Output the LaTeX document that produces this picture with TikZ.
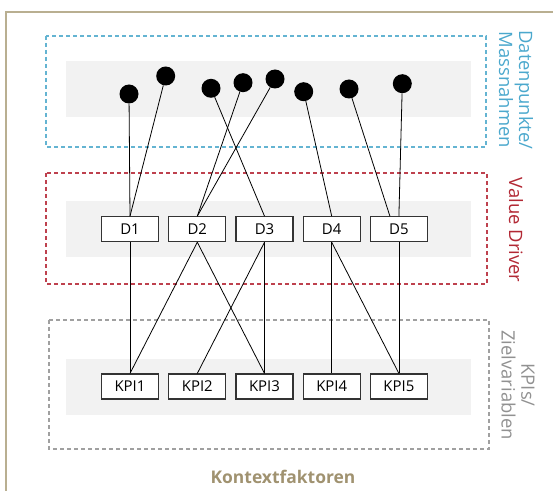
\documentclass[tikz,border=0pt]{standalone}
\usepackage{fontspec}
\setmainfont{Open Sans}
\usetikzlibrary{calc}
\definecolor{framec}{RGB}{185,175,145}
\definecolor{kontext}{RGB}{160,146,112}
\definecolor{bluedashc}{RGB}{100,180,210}
\definecolor{bluetext}{RGB}{75,168,205}
\definecolor{reddashc}{RGB}{190,65,78}
\definecolor{redtext}{RGB}{178,40,52}
\definecolor{graydashc}{RGB}{160,160,160}
\definecolor{graytext}{RGB}{145,145,145}
\definecolor{bandc}{RGB}{242,242,242}
\begin{document}
\begin{tikzpicture}[x=1bp,y=-1bp,
  groupbox/.style={line width=1.2bp, dash pattern=on 4bp off 3bp},
  band/.style={fill=bandc, draw=none},
  item/.style={draw=black!80, line width=1.1bp, fill=white, minimum width=57bp, minimum height=25bp, inner sep=0pt, font=\fontsize{15}{17}\selectfont},
  dot/.style={circle, fill=black, minimum size=19bp, inner sep=0pt},
  link/.style={draw=black, line width=0.8bp},
  sidelabel/.style={rotate=-90, align=center, font=\fontsize{18.5}{20}\selectfont, inner sep=0pt}
]
\useasboundingbox (0,0) rectangle (553,491);
\draw[framec, line width=1.6bp] (6,500) -- (6,12) -- (560,12);

% group boxes
\draw[groupbox, bluedashc] (46,36) rectangle (486,147);
\fill[band] (66,61) rectangle (471,117);
\draw[groupbox, reddashc] (46,173) rectangle (487,284);
\fill[band] (66,201) rectangle (471,257);
\draw[groupbox, graydashc] (49,320) rectangle (489,449);
\fill[band] (66,359) rectangle (471,415);

% side labels
\node[sidelabel, text=bluetext] (lab1) at (516,90) {Datenpunkte/\\Massnahmen};
\node[sidelabel, text=redtext] (lab2) at (516,230) {Value Driver};
\node[sidelabel, text=graytext] (lab3) at (518,385) {KPIs/\\Zielvariablen};
\node[text=kontext, font=\fontsize{17.5}{20}\selectfont\bfseries] (ctx) at (283,477) {Kontextfaktoren};

% dots
\node[dot] (p1) at (129,94) {};
\node[dot] (p2) at (165.7,76) {};
\node[dot] (p3) at (211,88.3) {};
\node[dot] (p4) at (243,82.7) {};
\node[dot] (p5) at (275,79) {};
\node[dot] (p6) at (303.7,91.7) {};
\node[dot] (p7) at (349,89) {};
\node[dot] (p8) at (402.3,83.7) {};

% drivers
\node[item] (D1) at (130,229.2) {D1};
\node[item] (D2) at (197.3,229.2) {D2};
\node[item] (D3) at (264.5,229.2) {D3};
\node[item] (D4) at (331.7,229.2) {D4};
\node[item] (D5) at (398.9,229.2) {D5};

% KPIs
\node[item] (K1) at (130,386.5) {KPI1};
\node[item] (K2) at (197.3,386.5) {KPI2};
\node[item] (K3) at (264.5,386.5) {KPI3};
\node[item] (K4) at (331.7,386.5) {KPI4};
\node[item] (K5) at (398.9,386.5) {KPI5};

\coordinate (D5a) at ($(D5.north)+(-9,0)$);

% links dots -> drivers
\draw[link] (p1) -- (D1.north);
\draw[link] (p2) -- (D1.north);
\draw[link] (p3) -- (D3.north);
\draw[link] (p4) -- (D2.north);
\draw[link] (p5) -- (D2.north);
\draw[link] (p6) -- (D4.north);
\draw[link] (p7) -- (D5a);
\draw[link] (p8) -- (D5.north);

% links drivers -> KPIs
\draw[link] (D1.south) -- (K1.north);
\draw[link] (D2.south) -- (K1.north);
\draw[link] (D2.south) -- (K3.north);
\draw[link] (D3.south) -- (K2.north);
\draw[link] (D3.south) -- (K3.north);
\draw[link] (D4.south) -- (K4.north);
\draw[link] (D4.south) -- (K5.north);
\draw[link] (D5.south) -- (K5.north);
\end{tikzpicture}
\end{document}
